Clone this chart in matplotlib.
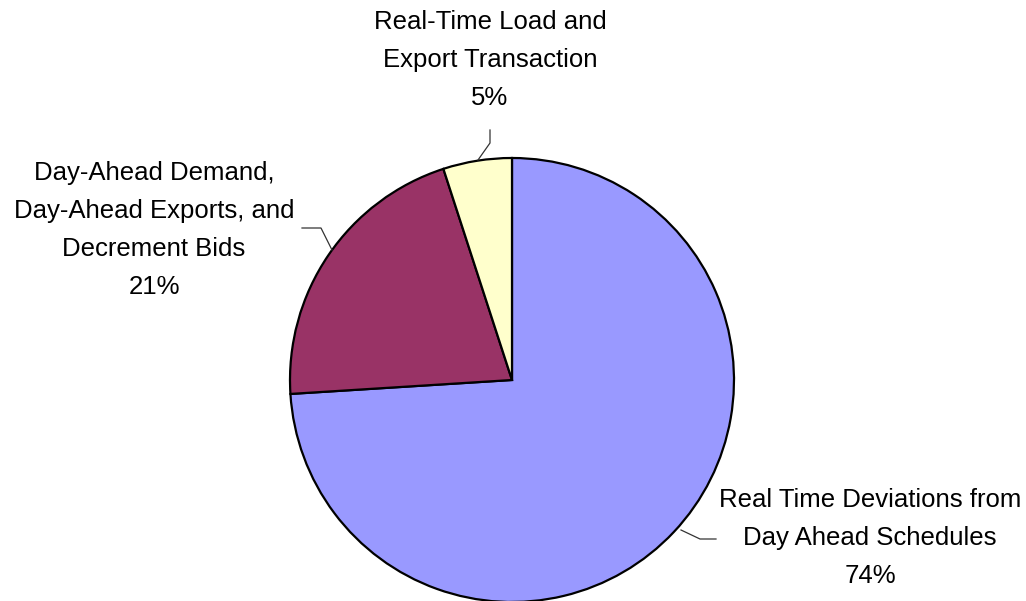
import matplotlib.pyplot as plt

# slice data, clockwise from 12 o'clock
labels = ['Real Time Deviations from\nDay Ahead Schedules',
          'Day-Ahead Demand,\nDay-Ahead Exports, and\nDecrement Bids',
          'Real-Time Load and\nExport Transaction']
shares = [74, 21, 5]
colors = ['#9999FF', '#993366', '#FFFFCC']

plt.rcParams['font.family'] = ['Liberation Sans Narrow', 'Liberation Sans', 'DejaVu Sans']

W, H = 1026, 601
cx, cy, r = 512, 380, 222


def px(x, y):
    """pixel -> data coordinates (pie radius = 1)"""
    return (x - cx) / r, (cy - y) / r


fig = plt.figure(figsize=(W / 100, H / 100), dpi=100)
ax = fig.add_axes([0, 0, 1, 1])

ax.pie(shares, colors=colors, startangle=90, counterclock=False, radius=1,
       center=(0, 0), frame=True,
       wedgeprops=dict(edgecolor='black', linewidth=1.6))
ax.set_xlim(px(0, 0)[0], px(W, 0)[0])
ax.set_ylim(px(0, H)[1], px(0, 0)[1])
ax.axis('off')

# label positions (pixels) and leader lines
label_pos = [(870, 538), (154, 230), (490, 60)]
leaders = [
    [(681, 530), (700, 539), (716, 539)],
    [(332, 250), (321, 228), (302, 228)],
    [(478, 160), (490, 143), (490, 130)],
]

for lab, val, (lx, ly), pts in zip(labels, shares, label_pos, leaders):
    x, y = px(lx, ly)
    ax.text(x, y, f'{lab}\n{val}%', ha='center', va='center', fontsize=18.5,
            linespacing=1.72, color='black')
    xs = [px(a, b)[0] for a, b in pts]
    ys = [px(a, b)[1] for a, b in pts]
    ax.plot(xs, ys, color='#333333', lw=0.9)

fig.savefig('out.png', dpi=100, facecolor='white')
